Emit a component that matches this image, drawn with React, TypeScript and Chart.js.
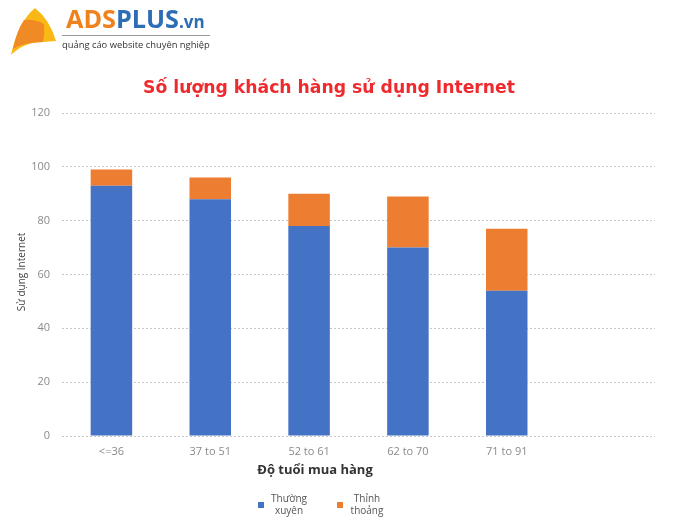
import React, { useEffect, useRef } from "react";
import { Chart, registerables } from "chart.js";

Chart.register(...registerables);

const categories = ["<=36", "37 to 51", "52 to 61", "62 to 70", "71 to 91", ""];
const thuongXuyen = [93, 88, 78, 70, 54, null];
const thinhThoang = [6, 8, 12, 19, 23, null];
const yTicks = [0, 20, 40, 60, 80, 100, 120];
const seriesNames = [["Thường", "xuyên"], ["Thỉnh", "thoảng"]];
const colors = ["#4472C4", "#ED7D31"];

function fitFont(ctx: CanvasRenderingContext2D, text: string, weight: string, family: string, target: number) {
  ctx.font = `${weight} 20px ${family}`;
  const w = ctx.measureText(text).width;
  const size = (20 * target) / w;
  ctx.font = `${weight} ${size}px ${family}`;
  return size;
}

const decorPlugin = {
  id: "decor",
  afterDraw(chart: any) {
    const ctx = chart.ctx as CanvasRenderingContext2D;
    ctx.save();
    // Logo shape (yellow base)
    ctx.beginPath();
    ctx.moveTo(11, 55);
    ctx.quadraticCurveTo(18, 22, 35, 8);
    ctx.quadraticCurveTo(50, 20, 56, 41);
    ctx.lineTo(43, 42);
    ctx.quadraticCurveTo(24, 42, 11, 55);
    ctx.fillStyle = "#F9B815";
    ctx.fill();
    // orange middle
    ctx.beginPath();
    ctx.moveTo(13, 49);
    ctx.quadraticCurveTo(17, 30, 24, 20);
    ctx.quadraticCurveTo(34, 19, 44, 24);
    ctx.quadraticCurveTo(45, 33, 43, 42);
    ctx.quadraticCurveTo(24, 42, 13, 49);
    ctx.fillStyle = "#F08A24";
    ctx.fill();
    // Logo text
    ctx.textBaseline = "alphabetic";
    ctx.textAlign = "left";
    fitFont(ctx, "ADSPLUS", "bold", "'Open Sans'", 113);
    ctx.fillStyle = "#F0821E";
    ctx.fillText("ADS", 66, 28);
    const w1 = ctx.measureText("ADS").width;
    ctx.fillStyle = "#2D6DB5";
    ctx.fillText("PLUS", 66 + w1, 28);
    const w2 = ctx.measureText("PLUS").width;
    ctx.font = "bold 17px 'Open Sans'";
    ctx.fillText(".vn", 66 + w1 + w2, 28);
    ctx.strokeStyle = "#999";
    ctx.lineWidth = 1;
    ctx.beginPath();
    ctx.moveTo(62, 35.5);
    ctx.lineTo(210, 35.5);
    ctx.stroke();
    fitFont(ctx, "quảng cáo website chuyên nghiệp", "normal", "'Open Sans'", 148);
    ctx.fillStyle = "#333";
    ctx.fillText("quảng cáo website chuyên nghiệp", 62, 48);

    // Title
    ctx.textAlign = "center";
    ctx.textBaseline = "middle";
    fitFont(ctx, "Số lượng khách hàng sử dụng Internet", "bold", "'DejaVu Sans'", 372);
    ctx.fillStyle = "#EE2A2E";
    ctx.fillText("Số lượng khách hàng sử dụng Internet", 329, 89);

    // X axis title
    ctx.font = "bold 13px 'Open Sans'";
    ctx.fillStyle = "#333";
    ctx.fillText("Độ tuổi mua hàng", 315, 470);

    // Y axis title
    ctx.save();
    ctx.translate(22, 272);
    ctx.rotate(-Math.PI / 2);
    ctx.font = "10px 'Open Sans'";
    ctx.fillStyle = "#444";
    ctx.fillText("Sử dụng Internet", 0, 0);
    ctx.restore();

    // Legend
    const items = [
      { sx: 258, cx: 289 },
      { sx: 337, cx: 367 },
    ];
    ctx.font = "10px 'Open Sans'";
    items.forEach((it, i) => {
      ctx.fillStyle = colors[i];
      ctx.fillRect(it.sx, 502, 6, 6);
      ctx.fillStyle = "#555";
      ctx.fillText(seriesNames[i][0], it.cx, 499);
      ctx.fillText(seriesNames[i][1], it.cx, 511);
    });
    ctx.restore();
  },
};

export default function App() {
  const ref = useRef<HTMLCanvasElement>(null);
  useEffect(() => {
    document.body.style.margin = "0";
    const chart = new Chart(ref.current!, {
      type: "bar",
      data: {
        labels: categories,
        datasets: [
          { label: "Thường xuyên", data: thuongXuyen, backgroundColor: colors[0] },
          { label: "Thỉnh thoảng", data: thinhThoang, backgroundColor: colors[1] },
        ],
      },
      options: {
        animation: false,
        responsive: false,
        layout: { padding: { left: 0, top: 113, right: 45, bottom: 0 } },
        plugins: { legend: { display: false }, title: { display: false }, tooltip: { enabled: false } },
        datasets: { bar: { categoryPercentage: 1, barPercentage: 0.42 } },
        scales: {
          x: {
            stacked: true,
            grid: { display: false, drawTicks: false },
            border: { display: false },
            ticks: { padding: 9, color: "#8a8a8a", font: { family: "'Open Sans'", size: 11 }, maxRotation: 0 },
            afterFit(scale: any) { scale.height = 89; },
          },
          y: {
            stacked: true,
            min: 0,
            max: 120,
            afterBuildTicks(scale: any) { scale.ticks = yTicks.map((v) => ({ value: v })); },
            grid: { color: "#c8c8c8", drawTicks: false, lineWidth: 1 },
            border: { display: false, dash: [2, 2] },
            ticks: { padding: 12, color: "#8a8a8a", font: { family: "'Open Sans'", size: 11 } },
            afterFit(scale: any) { scale.width = 62; },
          },
        },
      },
      plugins: [decorPlugin],
    });
    return () => chart.destroy();
  }, []);
  return <canvas ref={ref} width={700} height={525} style={{ display: "block" }} />;
}
